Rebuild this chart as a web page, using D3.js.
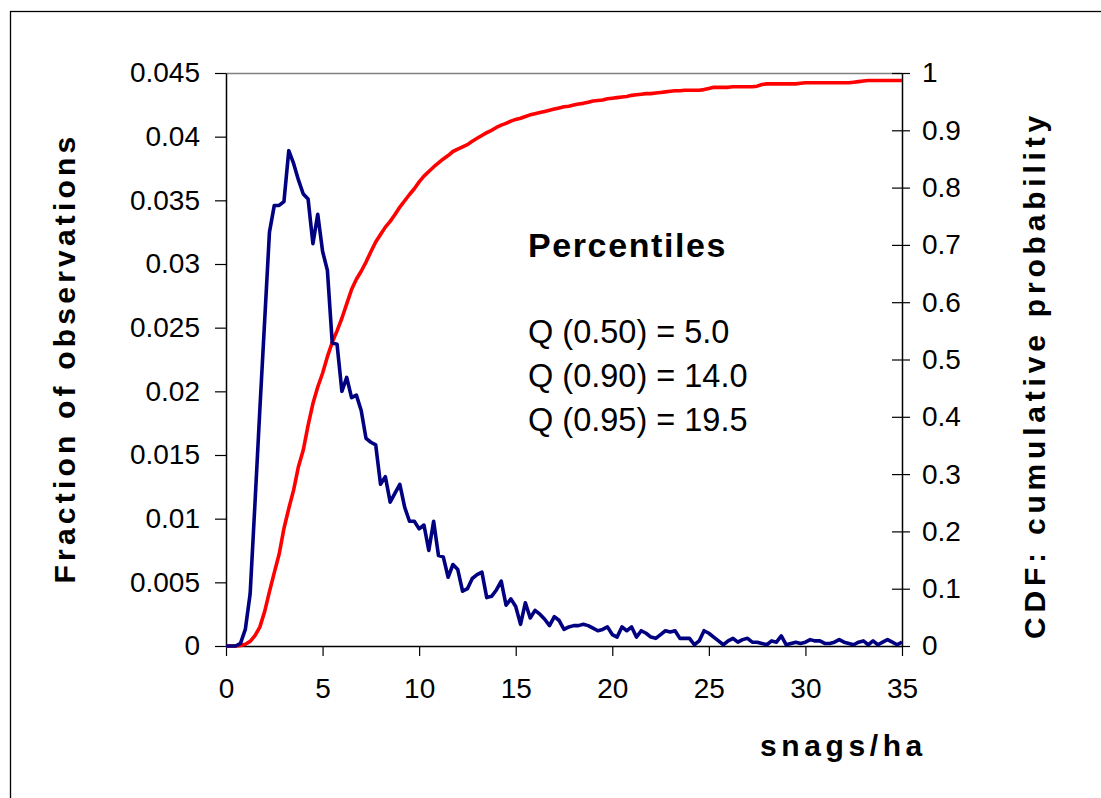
<!DOCTYPE html>
<html>
<head>
<meta charset="utf-8">
<script src="https://cdn.jsdelivr.net/npm/d3@7"></script>
<style>
  body { margin: 0; background: #fff; }
  svg { display: block; }
  text { font-family: "Liberation Sans", Arial, sans-serif; fill: #000; }
</style>
</head>
<body>
<svg id="chart" width="1101" height="798"></svg>
<script>
// Snag density: bins of 0.25 snags/ha from 0 to 35
const binWidth = 0.25;

// Fraction of observations in each bin
const fraction = [
  0, 0, 0, 0.0002, 0.0013, 0.0041, 0.0112, 0.0185, 0.0255, 0.0325,
  0.0346, 0.0346, 0.0349, 0.0389, 0.0379, 0.0366, 0.0355, 0.0351, 0.0316, 0.0339,
  0.0310, 0.0295, 0.0238, 0.0237, 0.0200, 0.0211, 0.0195, 0.0197, 0.0185, 0.0163,
  0.0160, 0.0158, 0.0127, 0.0133, 0.0113, 0.0120, 0.0127, 0.0109, 0.0098, 0.0098,
  0.0092, 0.0095, 0.0075, 0.0098, 0.0071, 0.0070, 0.0054, 0.0064, 0.0060, 0.0043,
  0.0045, 0.0053, 0.0056, 0.0058, 0.0038, 0.0039, 0.0044, 0.0051, 0.0032, 0.0037,
  0.0031, 0.0017, 0.0034, 0.0022, 0.0028, 0.0025, 0.0021, 0.0016, 0.0023, 0.0020,
  0.0013, 0.0015, 0.0016, 0.0016, 0.0017, 0.0016, 0.0014, 0.0012, 0.0013, 0.0015,
  0.0009, 0.0007, 0.0015, 0.0012, 0.0015, 0.0007, 0.0012, 0.0010, 0.0007, 0.0006,
  0.0009, 0.0012, 0.0011, 0.0012, 0.0006, 0.0006, 0.0006, 0.0001, 0.0004, 0.0012,
  0.0010, 0.0007, 0.0004, 0.0001, 0.0004, 0.0006, 0.0003, 0.0005, 0.0006, 0.0003,
  0.0003, 0.0002, 0.0001, 0.0004, 0.0003, 0.0008, 0.0001, 0.0002, 0.0003, 0.0002,
  0.0003, 0.0005, 0.0004, 0.0004, 0.0002, 0.0002, 0.0003, 0.0005, 0.0003, 0.0002,
  0.0001, 0.0003, 0.0004, 0.0001, 0.0004, 0.0001, 0.0003, 0.0005, 0.0003, 0.0001,
  0.0003
];

// Cumulative probability at each bin
const cumulative = [
  0, 0, 0, 0.001, 0.003, 0.008, 0.018, 0.033, 0.060, 0.095,
  0.128, 0.160, 0.205, 0.240, 0.272, 0.313, 0.342, 0.385, 0.423, 0.452,
  0.476, 0.505, 0.530, 0.550, 0.572, 0.597, 0.622, 0.640, 0.654, 0.670,
  0.688, 0.705, 0.718, 0.731, 0.741, 0.753, 0.766, 0.777, 0.788, 0.798,
  0.810, 0.820, 0.828, 0.836, 0.843, 0.850, 0.856, 0.863, 0.867, 0.871,
  0.875, 0.881, 0.886, 0.891, 0.896, 0.900, 0.905, 0.909, 0.912, 0.916,
  0.919, 0.921, 0.924, 0.927, 0.929, 0.931, 0.933, 0.935, 0.937, 0.939,
  0.941, 0.942, 0.944, 0.946, 0.947, 0.949, 0.951, 0.952, 0.953, 0.955,
  0.956, 0.957, 0.958, 0.959, 0.961, 0.962, 0.963, 0.964, 0.964, 0.965,
  0.966, 0.967, 0.968, 0.969, 0.969, 0.970, 0.970, 0.970, 0.970, 0.971,
  0.973, 0.975, 0.975, 0.975, 0.975, 0.976, 0.976, 0.976, 0.976, 0.976,
  0.977, 0.980, 0.981, 0.981, 0.981, 0.981, 0.981, 0.981, 0.981, 0.982,
  0.983, 0.983, 0.983, 0.983, 0.983, 0.983, 0.983, 0.983, 0.983, 0.983,
  0.984, 0.985, 0.986, 0.987, 0.987, 0.987, 0.987, 0.987, 0.987, 0.987,
  0.987
];

const xTicks = [0, 5, 10, 15, 20, 25, 30, 35];
const leftTicks = [0, 0.005, 0.01, 0.015, 0.02, 0.025, 0.03, 0.035, 0.04, 0.045];
const rightTicks = [0, 0.1, 0.2, 0.3, 0.4, 0.5, 0.6, 0.7, 0.8, 0.9, 1];

const percentileTitle = "Percentiles";
const percentileLabels = ["Q (0.50) = 5.0", "Q (0.90) = 14.0", "Q (0.95) = 19.5"];

const xTitle = "snags/ha";
const leftTitle = "Fraction of observations";
const rightTitle = "CDF: cumulative probability";

// ---- layout ----
const plot = { left: 226, right: 902, top: 73, bottom: 646 };

const svg = d3.select("#chart");

// outer chart frame
svg.append("rect")
  .attr("x", 10.5).attr("y", 11.5)
  .attr("width", 1200).attr("height", 900)
  .attr("fill", "#fff").attr("stroke", "#000").attr("stroke-width", 1.3);

const x = d3.scaleLinear().domain([0, 35]).range([plot.left, plot.right]);
const yL = d3.scaleLinear().domain([0, 0.045]).range([plot.bottom, plot.top]);
const yR = d3.scaleLinear().domain([0, 1]).range([plot.bottom, plot.top]);

// plot-area top border
svg.append("line")
  .attr("x1", plot.left).attr("x2", plot.right)
  .attr("y1", plot.top + 0.5).attr("y2", plot.top + 0.5)
  .attr("stroke", "#808080").attr("stroke-width", 1.5);

const trim = (digits) => (d) => String(+d.toFixed(digits));

// left axis
const gL = svg.append("g")
  .attr("transform", `translate(${plot.left},0)`)
  .call(d3.axisLeft(yL).tickValues(leftTicks).tickSize(11).tickPadding(15)
    .tickSizeOuter(0).tickFormat(trim(3)));

// right axis with ticks crossing the line
const gR = svg.append("g")
  .attr("transform", `translate(${plot.right},0)`)
  .call(d3.axisRight(yR).tickValues(rightTicks).tickSize(8).tickPadding(12)
    .tickSizeOuter(0).tickFormat(trim(1)));
gR.selectAll(".tick line").attr("x1", -10).attr("x2", 8);

// bottom axis
const gB = svg.append("g")
  .attr("transform", `translate(0,${plot.bottom})`)
  .call(d3.axisBottom(x).tickValues(xTicks).tickSize(10).tickPadding(22)
    .tickSizeOuter(0).tickFormat(d3.format("d")));

[gL, gR, gB].forEach(g => {
  g.select(".domain").attr("stroke", "#000").attr("stroke-width", 1.5);
  g.selectAll(".tick line").attr("stroke", "#000").attr("stroke-width", 1.2);
  g.selectAll(".tick text")
    .attr("font-family", "'Liberation Sans', Arial, sans-serif")
    .attr("font-size", 28).attr("fill", "#000");
});

// series
const pts = fraction.map((v, i) => ({ x: i * binWidth, f: v, c: cumulative[i] }));

svg.append("path")
  .datum(pts)
  .attr("fill", "none")
  .attr("stroke", "#ff0000")
  .attr("stroke-width", 3.6)
  .attr("stroke-linejoin", "round")
  .attr("d", d3.line().x(d => x(d.x)).y(d => yR(d.c)));

svg.append("path")
  .datum(pts)
  .attr("fill", "none")
  .attr("stroke", "#000080")
  .attr("stroke-width", 3.6)
  .attr("stroke-linejoin", "round")
  .attr("d", d3.line().x(d => x(d.x)).y(d => yL(d.f)));

// axis titles
svg.append("text")
  .attr("x", 760).attr("y", 756)
  .attr("font-size", 30).attr("font-weight", "bold")
  .attr("letter-spacing", 4.6)
  .text(xTitle);

svg.append("text")
  .attr("transform", "translate(75,358) rotate(-90)")
  .attr("text-anchor", "middle")
  .attr("font-size", 30).attr("font-weight", "bold")
  .attr("letter-spacing", 4.2)
  .text(leftTitle);

svg.append("text")
  .attr("transform", "translate(1045,375) rotate(-90)")
  .attr("text-anchor", "middle")
  .attr("font-size", 30).attr("font-weight", "bold")
  .attr("letter-spacing", 4.8)
  .text(rightTitle);

// percentile annotation
svg.append("text")
  .attr("x", 528).attr("y", 257)
  .attr("font-size", 34).attr("font-weight", "bold")
  .attr("letter-spacing", 1.6)
  .text(percentileTitle);

svg.selectAll("text.pct")
  .data(percentileLabels)
  .join("text")
  .attr("class", "pct")
  .attr("x", 528)
  .attr("y", (d, i) => 343 + i * 44)
  .attr("font-size", 32.5)
  .text(d => d);
</script>
</body>
</html>
